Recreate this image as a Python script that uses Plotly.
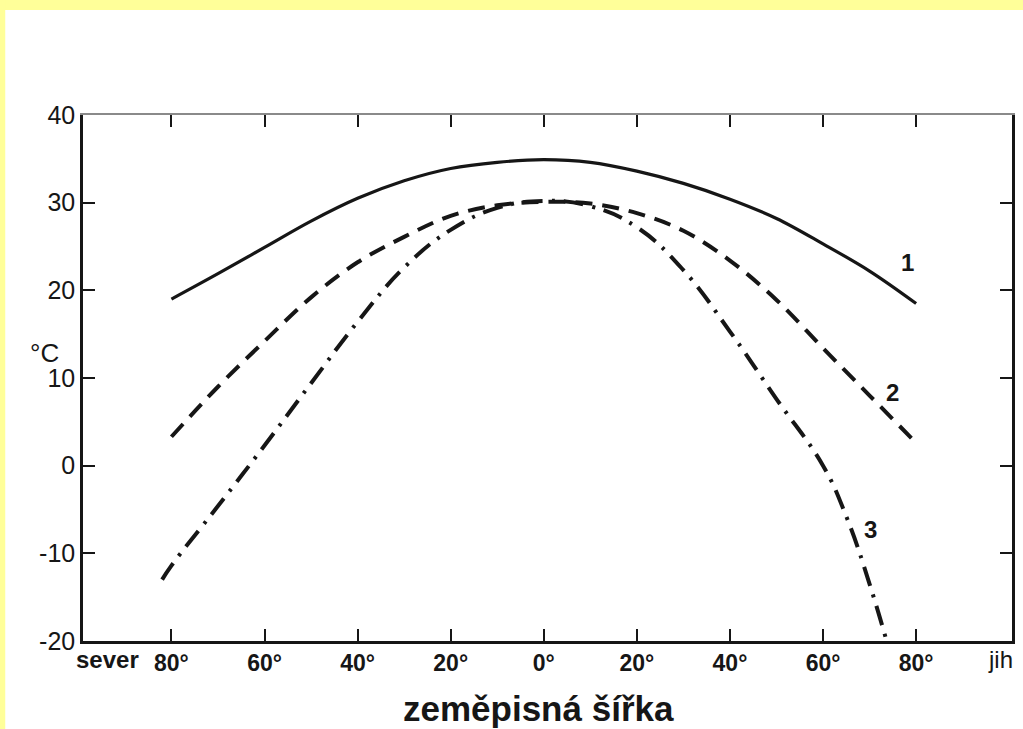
import plotly.graph_objects as go

# --- data ---
lat1 = [-80, -70, -60, -50, -40, -30, -20, -10, 0, 10, 20, 30, 40, 50, 60, 70, 80]
t1 = [19.0, 21.9, 24.9, 27.9, 30.5, 32.5, 33.9, 34.6, 34.9, 34.6, 33.6, 32.2, 30.4, 28.2, 25.3, 22.2, 18.5]

lat2 = [-80, -70, -60, -50, -40, -30, -20, -10, 0, 10, 20, 30, 40, 50, 60, 70, 80]
t2 = [3.3, 9.0, 14.2, 19.2, 23.2, 26.1, 28.5, 29.7, 30.1, 29.9, 28.8, 26.8, 23.4, 18.9, 13.4, 8.0, 2.6]

lat3 = [-82, -80, -70, -60, -50, -40, -30, -20, -10, 0, 10, 20, 30, 40, 50, 60, 65, 70, 75]
t3 = [-13.0, -11.4, -4.6, 2.3, 9.4, 16.4, 22.6, 26.9, 29.4, 30.2, 29.6, 27.2, 22.3, 15.3, 7.6, 0.0, -5.8, -13.5, -22.5]

x_tickvals = [-80, -60, -40, -20, 0, 20, 40, 60, 80]
x_ticktext = ["80°", "60°", "40°", "20°", "0°", "20°", "40°", "60°", "80°"]
y_tickvals = [-20, -10, 0, 10, 20, 30, 40]
y_ticktext = ["-20", "-10", "0", "10", "20", "30", "40"]

curve_labels = ["1", "2", "3"]
curve_label_pos = [(78.2, 23.2), (74.9, 8.3), (70.2, -7.3)]

INK = "#161616"
FONT = "Liberation Sans, Arial, sans-serif"

fig = go.Figure()
fig.add_trace(go.Scatter(x=lat1, y=t1, mode="lines", line=dict(color=INK, width=3.2, shape="spline", smoothing=1.0), showlegend=False))
fig.add_trace(go.Scatter(x=lat2, y=t2, mode="lines", line=dict(color=INK, width=4, shape="spline", smoothing=1.0, dash="17px,10px"), showlegend=False))
fig.add_trace(go.Scatter(x=lat3, y=t3, mode="lines", line=dict(color=INK, width=4, shape="spline", smoothing=1.2, dash="20px,9px,3px,9px"), showlegend=False))
# invisible trace to carry top axis
fig.add_trace(go.Scatter(x=[0], y=[0], xaxis="x2", mode="markers", marker=dict(opacity=0), showlegend=False, hoverinfo="skip"))

for lab, (lx, ly) in zip(curve_labels, curve_label_pos):
    fig.add_annotation(x=lx, y=ly, text=lab, showarrow=False, font=dict(family=FONT, size=24, color=INK, weight="bold"))

fig.add_annotation(x=-93.8, y=-0.036, xref="x", yref="paper", yanchor="middle", text="sever", showarrow=False,
                   font=dict(family=FONT, size=24, color=INK, weight="bold"))
fig.add_annotation(x=98.2, y=-0.036, xref="x", yref="paper", yanchor="middle", text="jih", showarrow=False,
                   font=dict(family=FONT, size=24, color=INK))
fig.add_annotation(x=0.4903, y=-0.1274, xref="paper", yref="paper", text="zeměpisná šířka", showarrow=False,
                   font=dict(family=FONT, size=35, color=INK, weight="bold"), yanchor="middle")
fig.add_annotation(x=-0.059, y=0.548, xref="paper", yref="paper", text="°C", showarrow=False,
                   font=dict(family=FONT, size=26, color=INK))

# yellow scan border (top and left)
fig.add_shape(type="rect", xref="paper", yref="paper", x0=-0.2, x1=1.1, y0=1.1996, y1=1.25,
              fillcolor="#FFFF99", line=dict(width=0), layer="below")
fig.add_shape(type="rect", xref="paper", yref="paper", x0=-0.2, x1=-0.0837, y0=-0.3, y1=1.25,
              fillcolor="#FFFF99", line=dict(width=0), layer="below")

fig.update_layout(
    width=1023, height=729,
    margin=dict(l=83, r=8, t=115, b=88),
    paper_bgcolor="white", plot_bgcolor="white",
    font=dict(family=FONT, color=INK),
    xaxis=dict(range=[-99, 100.6], tickvals=x_tickvals, ticktext=x_ticktext, ticks="inside", ticklen=12,
               tickwidth=2, tickcolor=INK, showline=True, linecolor=INK, linewidth=2.5, showgrid=False,
               zeroline=False, tickfont=dict(size=23, color=INK, family=FONT, weight="bold")),
    xaxis2=dict(range=[-99, 100.6], overlaying="x", side="top", tickvals=x_tickvals, showticklabels=False,
                ticks="inside", ticklen=12, tickwidth=2, tickcolor=INK, showline=True, linecolor="#8a8a8a",
                linewidth=1.5, showgrid=False, zeroline=False),
    yaxis=dict(range=[-20, 40], tickvals=y_tickvals, ticktext=y_ticktext, ticks="inside", ticklen=12,
               tickwidth=2, tickcolor=INK, showline=True, linecolor=INK, linewidth=2.5, mirror="ticks",
               showgrid=False, zeroline=False, tickfont=dict(size=25, color=INK, family=FONT)),
)

fig.write_html("out.html", config={"displayModeBar": False},
               post_script="document.body.style.margin='0px';")
